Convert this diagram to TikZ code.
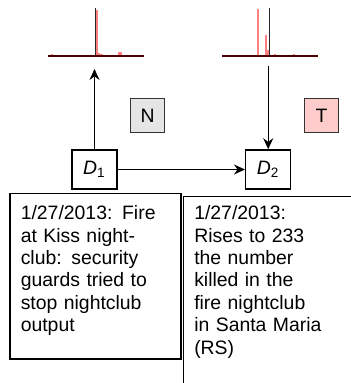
\documentclass[tikz,border=0pt]{standalone}
\usepackage{fontspec}
\setmainfont{Liberation Sans}
\usetikzlibrary{arrows.meta,positioning}

\tikzset{
  evbox/.style={draw, line width=.75pt, minimum width=22.5pt, minimum height=19.5pt, inner sep=0pt},
  tagbox/.style={draw=black!80, line width=.75pt, minimum size=17pt, inner sep=0pt},
  newsbox/.style={draw, line width=.75pt, anchor=north west, align=left, inner xsep=5.5pt, inner ysep=3pt},
  flow/.style={line width=.7pt, -{Stealth[length=5.5pt,width=5pt,inset=1.8pt]}},
  axisline/.style={line width=1pt, color=black!70!red},
  meanline/.style={line width=.7pt, color=black!85},
  bar/.style={fill=red!50},
}

\begin{document}
\begin{tikzpicture}[x=.5pt, y=-.5pt, every node/.style={font=\fontsize{9.7pt}{11.2pt}\selectfont}]
			\useasboundingbox (0,0) rectangle (351,383);
			\clip (0,0) rectangle (351,383);
			
			% Left histogram
			\foreach \x/\t in {51/54, 96.3/10, 98/53.5, 99.7/54, 101.4/54.5, 110.5/55, 118/52.5, 119.8/52.5}
				\fill[bar] (\x,\t) rectangle (\x+1.8,56);
			\draw[meanline] (95.5,8) -- (95.5,56);
			\draw[axisline] (48,56) -- (144,56);
			
			% Right histogram
			\foreach \x/\t in {257.3/9.3, 265/35, 266.7/50, 274/54, 284.7/55, 293/54}
				\fill[bar] (\x,\t) rectangle (\x+1.8,56);
			\draw[meanline] (269.7,8) -- (269.7,56);
			\draw[axisline] (222,56) -- (318,56);
			
			% Documents and labels
			\node[evbox] (d1) at (94.5,169.5) {\textit{D}\textsubscript{1}};
			\node[evbox] (d2) at (268.2,169.5) {\textit{D}\textsubscript{2}};
			\node[tagbox, fill=black!10] (tagN) at (147.7,115.5) {N};
			\node[tagbox, fill=red!20] (tagT) at (321.6,115.5) {T};
			\coordinate (histN) at (94.5,69);
			\coordinate (histT) at (268.2,66);
			
			\draw[flow] (d1) -- (histN);
			\draw[flow] (histT) -- (d2);
			\draw[flow] (d1) -- (d2);
			
			% News texts
			\node[newsbox, text width=74.5pt, text height=10pt, text depth=66.5pt] (news1) at (9,193)
				{1/27/2013: Fire\\ at Kiss night-\\ club: security\\ guards tried to\\ stop nightclub\\ output};
			\node[newsbox, text width=100pt, text height=8.5pt, text depth=100pt] (news2) at (182.5,196)
				{1/27/2013:\\ Rises to 233\\ the number\\ killed in the\\ fire nightclub\\ in Santa Maria\\ (RS)};
		\end{tikzpicture}
\end{document}
